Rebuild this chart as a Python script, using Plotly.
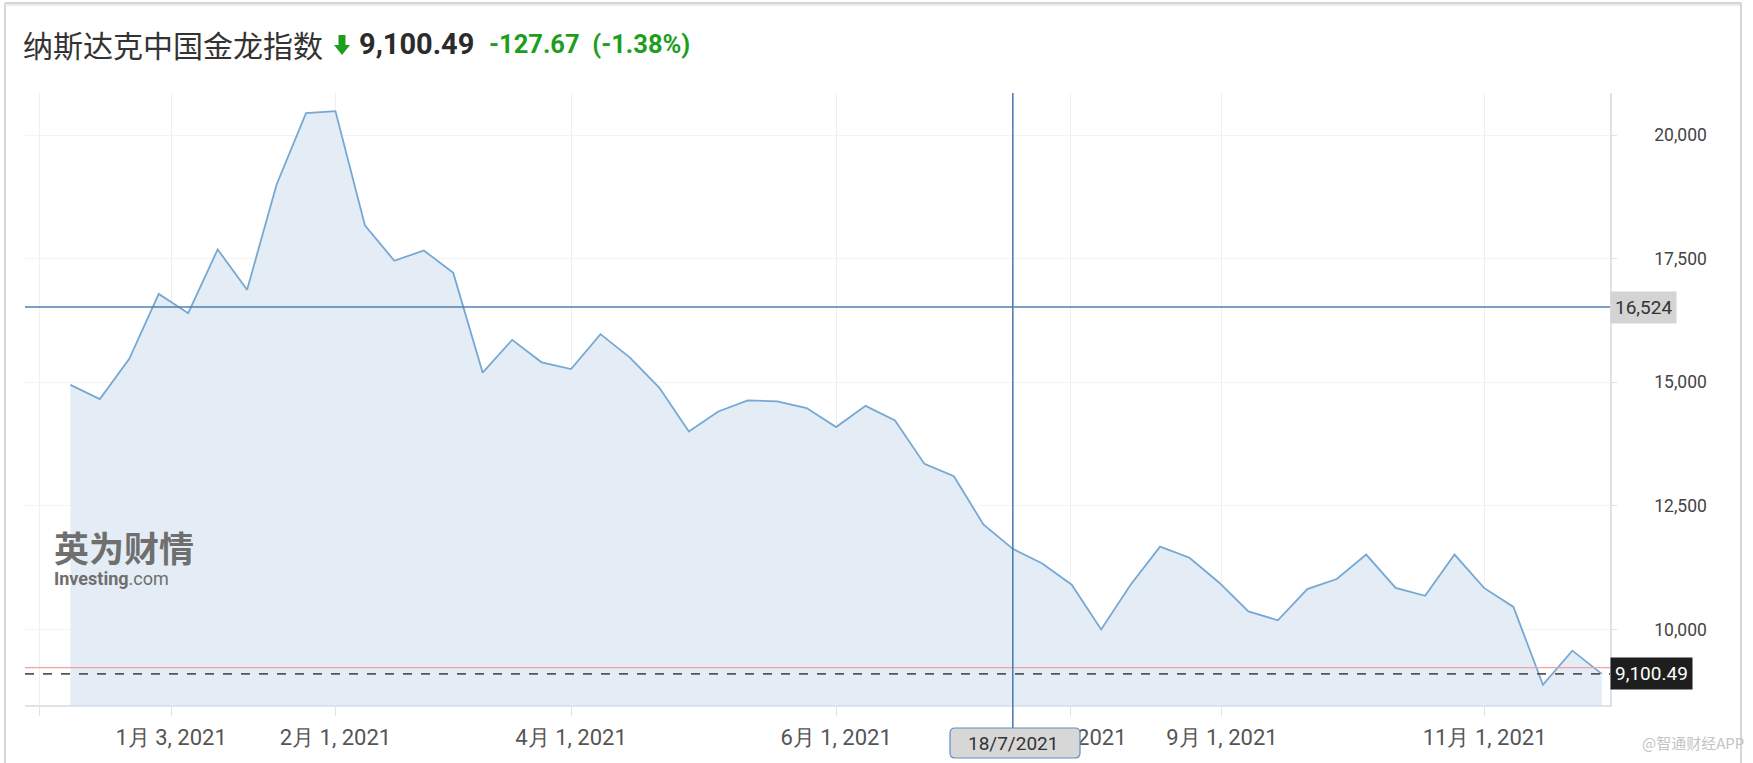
import plotly.graph_objects as go

# ---------------- data ----------------
values = [14950, 14660, 15475, 16790, 16400, 17690, 16875, 19000, 20450, 20490,
          18180, 17460, 17670, 17215, 15195, 15860, 15405, 15270, 15975, 15500,
          14890, 14005, 14410, 14635, 14615, 14480, 14095, 14525, 14230, 13350,
          13100, 12125, 11630, 11335, 10905, 10000, 10905, 11675, 11450, 10950,
          10365, 10185, 10815, 11020, 11515, 10840, 10680, 11515, 10840, 10455,
          8880, 9570, 9100.49]
x_tick_labels = ["", "1月 3, 2021", "2月 1, 2021", "4月 1, 2021", "6月 1, 2021",
                 "8月 1, 2021", "9月 1, 2021", "11月 1, 2021"]
x_tick_index = [-1.06, 3.42, 9.0, 17.0, 26.0, 33.97, 39.1, 48.02]
y_ticks = [10000, 12500, 15000, 17500, 20000]
title_text = "纳斯达克中国金龙指数"
last_value = 9100.49
change = -127.67
change_pct = -1.38
prev_close = last_value - change
crosshair_index = 32
crosshair_date = "18/7/2021"
crosshair_value = 16524

# ---------------- layout helpers ----------------
W, H = 1753, 763
L, R, T, B = 25, 1610, 93, 705


def px(x):
    return (x - L) / (R - L)


def py(y):
    return (B - y) / (B - T)


idx = list(range(len(values)))

fig = go.Figure()
fig.add_trace(go.Scatter(
    x=idx, y=values, mode="lines",
    line=dict(color="#76a8d4", width=1.8),
    fill="tozeroy", fillcolor="#e4edf5",
    hoverinfo="y", showlegend=False))

shapes = []
ann = []

# outer frame
frame_col = "#c9c9c9"
shapes.append(dict(type="line", xref="paper", yref="paper", x0=px(5), x1=px(5), y0=py(3), y1=py(763),
                   line=dict(color=frame_col, width=1.5)))
shapes.append(dict(type="line", xref="paper", yref="paper", x0=px(5), x1=px(1741), y0=py(3), y1=py(3),
                   line=dict(color=frame_col, width=1.5)))
shapes.append(dict(type="line", xref="paper", yref="paper", x0=px(5), x1=px(1741), y0=py(5), y1=py(5),
                   line=dict(color="#ececec", width=2)))
shapes.append(dict(type="line", xref="paper", yref="paper", x0=px(1741), x1=px(1741), y0=py(3), y1=py(763),
                   line=dict(color=frame_col, width=1.5)))

# previous close (red) and last value (dashed)
shapes.append(dict(type="line", xref="paper", yref="y", x0=0, x1=1.003, y0=prev_close, y1=prev_close,
                   line=dict(color="#f2a2a2", width=1.2)))
shapes.append(dict(type="line", xref="paper", yref="y", x0=0, x1=1, y0=last_value, y1=last_value,
                   line=dict(color="#555555", width=1.6, dash="dash")))

# crosshair
cross_col = "#4f7fb3"
shapes.append(dict(type="line", xref="paper", yref="y", x0=0, x1=1, y0=crosshair_value, y1=crosshair_value,
                   line=dict(color=cross_col, width=1.6)))
shapes.append(dict(type="line", xref="x", yref="paper", x0=crosshair_index, x1=crosshair_index,
                   y0=py(93), y1=py(729), line=dict(color=cross_col, width=1.6)))

# rounded date box
bx0, bx1, by0, by1, rr = 950, 1080, 728, 758, 5
path = (f"M {px(bx0+rr)},{py(by0)} L {px(bx1-rr)},{py(by0)} "
        f"Q {px(bx1)},{py(by0)} {px(bx1)},{py(by0+rr)} L {px(bx1)},{py(by1-rr)} "
        f"Q {px(bx1)},{py(by1)} {px(bx1-rr)},{py(by1)} L {px(bx0+rr)},{py(by1)} "
        f"Q {px(bx0)},{py(by1)} {px(bx0)},{py(by1-rr)} L {px(bx0)},{py(by0+rr)} "
        f"Q {px(bx0)},{py(by0)} {px(bx0+rr)},{py(by0)} Z")
shapes.append(dict(type="path", xref="paper", yref="paper", path=path,
                   fillcolor="#d7d7d7", line=dict(color="#5f8dbd", width=1.2)))
ann.append(dict(xref="x", yref="paper", x=crosshair_index, y=py(743), text=crosshair_date,
                showarrow=False, xanchor="center", yanchor="middle",
                font=dict(family="Roboto, Arial", size=19, color="#333333")))

# right side value labels
ann.append(dict(xref="paper", yref="y", x=1, y=crosshair_value, text=f"{crosshair_value:,}",
                showarrow=False, xanchor="left", yanchor="middle", bgcolor="#d4d4d4",
                borderpad=4, font=dict(family="Roboto, Arial", size=19, color="#333333")))
ann.append(dict(xref="paper", yref="y", x=1, y=last_value, text=f"{last_value:,.2f}",
                showarrow=False, xanchor="left", yanchor="middle", bgcolor="#1e1e1e",
                borderpad=4, font=dict(family="Roboto, Arial", size=19, color="#ffffff")))

# title row
title_y = py(44)
ann.append(dict(xref="paper", yref="paper", x=px(21), y=title_y, text=title_text, showarrow=False,
                xanchor="left", yanchor="middle",
                font=dict(family="Noto Sans CJK SC", size=30, color="#333333")))
# green down arrow
ax0, ax1, ay0, ay1 = 334, 350, 35, 55
acx = (ax0 + ax1) / 2
arrow = (f"M {px(acx-3.5)},{py(ay0)} L {px(acx+3.5)},{py(ay0)} L {px(acx+3.5)},{py(ay0+10)} "
         f"L {px(ax1)},{py(ay0+10)} L {px(acx)},{py(ay1)} L {px(ax0)},{py(ay0+10)} "
         f"L {px(acx-3.5)},{py(ay0+10)} Z")
shapes.append(dict(type="path", xref="paper", yref="paper", path=arrow,
                   fillcolor="#1e9e1e", line=dict(width=0)))
ann.append(dict(xref="paper", yref="paper", x=px(357), y=title_y, text=f"<b>{last_value:,.2f}</b>",
                showarrow=False, xanchor="left", yanchor="middle",
                font=dict(family="Roboto, Arial", size=29, color="#2b2b2b")))
ann.append(dict(xref="paper", yref="paper", x=px(487), y=title_y,
                text=f"<b>{change:,.2f}</b>&nbsp;&nbsp;<b>({change_pct:.2f}%)</b>",
                showarrow=False, xanchor="left", yanchor="middle",
                font=dict(family="Roboto, Arial", size=25.5, color="#1e9e1e")))

# watermarks (single two-line text block)
ann.append(dict(xref="paper", yref="paper", x=px(52), y=py(591),
                text="<span style='font-size:35px'><b>英为财情</b></span><br><b>Investing</b>.com",
                showarrow=False, xanchor="left", yanchor="bottom", align="left",
                font=dict(family="Roboto, Noto Sans CJK SC", size=18, color="#6f6f6f")))
ann.append(dict(xref="paper", yref="paper", x=px(1746), y=py(742), text="@智通财经APP", showarrow=False,
                xanchor="right", yanchor="middle",
                font=dict(family="Noto Sans CJK SC", size=15, color="#c4c4c4")))

x0_range = (L - 70.4) / 29.45
x1_range = (R - 70.4) / 29.45
fig.update_layout(
    width=W, height=H,
    margin=dict(l=L, r=W - R, t=T, b=H - B),
    paper_bgcolor="white", plot_bgcolor="white",
    shapes=shapes, annotations=ann,
    xaxis=dict(range=[x0_range, x1_range], tickmode="array", tickvals=x_tick_index, ticktext=x_tick_labels,
               showgrid=True, gridcolor="#efefef", gridwidth=1, zeroline=False,
               showline=True, linecolor="#dde3eb", linewidth=1.5,
               ticks="outside", ticklen=9, tickcolor="#e3e3e3", tickwidth=1,
               tickfont=dict(family="Roboto, Arial", size=22, color="#555555"), ticklabelstandoff=3),
    yaxis=dict(side="right", range=[8470, 20856], tickmode="array", tickvals=y_ticks, tickformat=",d",
               showgrid=True, gridcolor="#f3f3f3", zeroline=False,
               showline=True, linecolor="#dde3eb", linewidth=1.5,
               ticks="outside", ticklen=5, tickcolor="#dde3eb",
               tickfont=dict(family="Roboto, Arial", size=17.5, color="#444444"), ticklabelstandoff=34),
)

fig.write_html("out.html", config={"displayModeBar": False},
               post_script="document.body.style.margin='0';document.body.style.padding='0';")
